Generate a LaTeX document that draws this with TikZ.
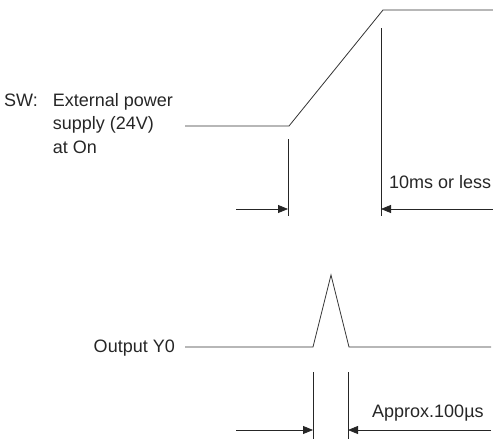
\documentclass[tikz,border=0pt]{standalone}
\usepackage{fontspec}
\setmainfont{Liberation Sans}
\usetikzlibrary{arrows.meta}
\begin{document}
\begin{tikzpicture}[x=1pt,y=-1pt,
  wave/.style={line width=0.8pt, draw=black!80, line join=miter},
  dimline/.style={line width=0.8pt, draw=black!85},
  arr/.style={line width=0.8pt, draw=black!85, -{Triangle[length=10pt,width=8pt]}},
  lbl/.style={font=\fontsize{18}{23.5}\selectfont, inner sep=0pt, text=black!85}]
\useasboundingbox (0,0) rectangle (493,439);
% top waveform
\coordinate (a0) at (185,126);
\coordinate (a1) at (289,126);
\coordinate (a2) at (383,10);
\coordinate (a3) at (493,10);
\draw[wave] (a0) -- (a1) -- (a2) -- (a3);
\coordinate (v1t) at (288,139); \coordinate (v1b) at (288,216);
\coordinate (v2t) at (381,28);  \coordinate (v2b) at (381,216);
\draw[dimline] (v1t) -- (v1b);
\draw[dimline] (v2t) -- (v2b);
\coordinate (l1s) at (236,209); \coordinate (l1e) at (288,209);
\coordinate (r1s) at (493,209); \coordinate (r1e) at (381,209);
\draw[arr] (l1s) -- (l1e);
\draw[arr] (r1s) -- (r1e);
\node[lbl, anchor=west] (sw) at (4,125) {\begin{tabular}{@{}l@{\hspace{15pt}}l@{}}SW: & External power\\ & supply (24V)\\ & at On\end{tabular}};
\node[lbl, anchor=west] (t1) at (389,182) {10ms or less};
% bottom waveform
\coordinate (b0) at (185,347);
\coordinate (b1) at (313,347);
\coordinate (b2) at (331,275);
\coordinate (b3) at (349,347);
\coordinate (b4) at (491,347);
\draw[wave] (b0) -- (b1) -- (b2) -- (b3) -- (b4);
\coordinate (v3t) at (313,372); \coordinate (v3b) at (313,439);
\coordinate (v4t) at (348,372); \coordinate (v4b) at (348,439);
\draw[dimline] (v3t) -- (v3b);
\draw[dimline] (v4t) -- (v4b);
\coordinate (l2s) at (236,430); \coordinate (l2e) at (313,430);
\coordinate (r2s) at (491,430); \coordinate (r2e) at (348,430);
\draw[arr] (l2s) -- (l2e);
\draw[arr] (r2s) -- (r2e);
\node[lbl, anchor=east] (out) at (175,348) {Output Y0};
\node[lbl, anchor=west] (t2) at (372,413) {Approx.100µs};
\end{tikzpicture}
\end{document}
